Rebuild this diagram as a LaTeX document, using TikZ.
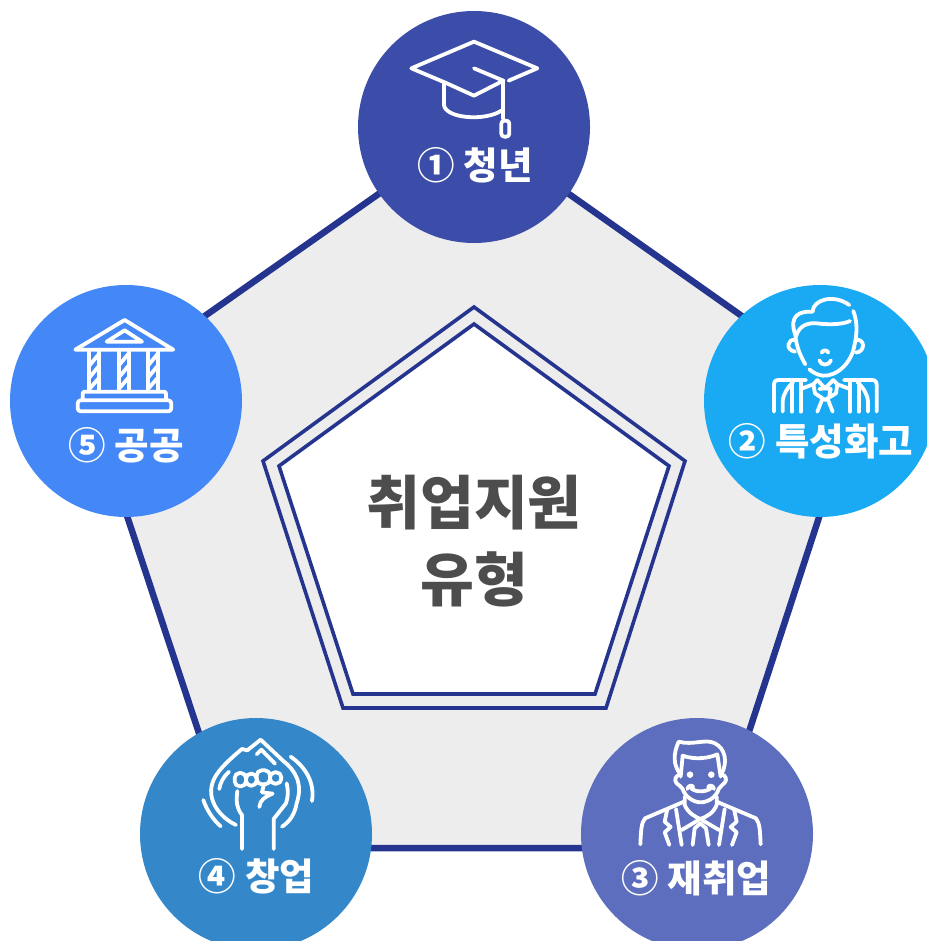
\documentclass[tikz,border=0pt]{standalone}
\usepackage{fontspec}
\newfontfamily\krfont{Noto Sans CJK KR}
\definecolor{edgeblue}{HTML}{25358F}
\definecolor{panelgray}{HTML}{EDEDEE}
\definecolor{titlegray}{HTML}{4D4D4D}
\definecolor{cone}{HTML}{3B4DA8}
\definecolor{ctwo}{HTML}{1AA9F3}
\definecolor{cthree}{HTML}{5C6EBD}
\definecolor{cfour}{HTML}{3487C9}
\definecolor{cfive}{HTML}{4487F7}
\tikzset{
  disc/.style={circle,minimum size=232pt,inner sep=0pt,outer sep=0pt},
  lab/.style={text=white,font=\krfont\bfseries\fontsize{37.5}{40}\selectfont,inner sep=0pt},
  title/.style={text=titlegray,font=\krfont\bfseries\fontsize{58.5}{77}\selectfont,align=center,inner sep=0pt},
  ico/.style={draw=white,line width=3.8pt,line cap=round,line join=round},
  icozoom/.style={x=0.3333pt,y=-0.3333pt}
}
\begin{document}
\begin{tikzpicture}[x=1pt,y=-1pt]
\useasboundingbox (0,0) rectangle (927,941);
\clip (0,0) rectangle (927,941);
% outer pentagon
\coordinate (o1) at (474,127);
\coordinate (o2) at (858,398);
\coordinate (o3) at (711,848);
\coordinate (o4) at (237,848);
\coordinate (o5) at (88,398);
\draw[edgeblue,fill=panelgray,line width=6.5pt,line join=miter] (o1)--(o2)--(o3)--(o4)--(o5)--cycle;
% middle pentagon
\coordinate (m1) at (474,307);
\coordinate (m2) at (685,461);
\coordinate (m3) at (606,708);
\coordinate (m4) at (343,708);
\coordinate (m5) at (263,461);
\draw[edgeblue,fill=panelgray,line width=3.6pt] (m1)--(m2)--(m3)--(m4)--(m5)--cycle;
% inner pentagon
\coordinate (i1) at (474,324);
\coordinate (i2) at (669,466);
\coordinate (i3) at (595,694);
\coordinate (i4) at (353,694);
\coordinate (i5) at (279,466);
\draw[edgeblue,fill=white,line width=3.6pt] (i1)--(i2)--(i3)--(i4)--(i5)--cycle;
\node[title] (centre) at (474,541) {취업지원\\유형};
% discs
\node[disc,fill=cone] (c1) at (474,127) {};
\node[disc,fill=ctwo] (c2) at (820,401) {};
\node[disc,fill=cthree] (c3) at (697,834) {};
\node[disc,fill=cfour] (c4) at (256,834) {};
\node[disc,fill=cfive] (c5) at (126,401) {};
% labels
\node[lab] (l1) at (475,165) {① 청년};
\node[lab] (l2) at (821,441) {② 특성화고};
\node[lab] (l3) at (696.5,878) {③ 재취업};
\node[lab] (l4) at (256.5,876) {④ 창업};
\node[lab] (l5) at (126,445) {⑤ 공공};
% cap
\begin{scope}[shift={(358,10)},icozoom]
\draw[ico] (262,218)--(160,175)--(348,95)--(538,175)--(452,212);
\draw[ico] (262,218)--(348,257)--(436,212)--(348,175);
\draw[ico] (436,212)--(436,325);
\draw[ico,rounded corners=3pt] (430,332) rectangle (454,380);
\draw[ico] (258,218)--(258,285) .. controls (262,325) and (380,335) .. (430,302);
\end{scope}
% student
\begin{scope}[shift={(700,285)},icozoom]
\draw[ico] (316,238) .. controls (296,205) and (288,175) .. (286,150) .. controls (265,90) and (300,78) .. (338,80) .. controls (338,45) and (400,25) .. (448,60);
\draw[ico] (460,78) .. controls (474,115) and (470,150) .. (464,178) .. controls (455,235) and (410,275) .. (368,272) .. controls (352,270) and (338,262) .. (328,253);
\draw[ico] (288,155) .. controls (295,125) and (320,112) .. (350,115) .. controls (390,120) and (430,118) .. (450,108);
\draw[ico] (286,165) .. controls (262,160) and (255,195) .. (285,200);
\draw[ico] (468,165) .. controls (495,160) and (497,200) .. (468,203);
\draw[ico] (358,226) .. controls (362,243) and (388,243) .. (393,226);
\draw[ico] (365,203) .. controls (368,194) and (382,194) .. (385,203);
\draw[ico] (222,380)--(222,300) .. controls (222,290) and (226,285) .. (236,285)--(318,285);
\draw[ico] (530,380)--(530,300) .. controls (530,290) and (526,285) .. (516,285)--(432,285);
\draw[ico] (248,380)--(248,350) .. controls (250,325) and (262,310) .. (280,290);
\draw[ico] (276,380)--(276,290);
\draw[ico] (302,380)--(302,290);
\draw[ico] (504,380)--(504,350) .. controls (502,325) and (490,310) .. (472,290);
\draw[ico] (476,380)--(476,290);
\draw[ico] (450,380)--(450,290);
\draw[ico] (302,312)--(340,298)--(352,285);
\draw[ico] (450,312)--(412,298)--(400,285);
\draw[ico] (340,298)--(345,325)--(375,345)--(408,325)--(412,298);
\draw[ico] (352,285)--(375,310)--(400,285);
\draw[ico] (358,312)--(375,310)--(392,312)--(388,332);
\draw[ico] (366,345)--(352,380);
\draw[ico] (384,345)--(398,380);
\end{scope}
% man
\begin{scope}[shift={(580,715)},icozoom]
\draw[ico] (302,178) .. controls (278,150) and (280,115) .. (296,80) .. controls (340,92) and (375,70) .. (405,85) .. controls (435,100) and (445,140) .. (424,178);
\draw[ico] (302,185)--(308,122) .. controls (345,135) and (385,130) .. (412,118)--(422,185);
\draw[ico] (302,178) .. controls (288,180) and (280,195) .. (290,205) .. controls (298,212) and (304,215) .. (308,222) .. controls (315,245) and (340,262) .. (362,262) .. controls (385,262) and (410,245) .. (416,222) .. controls (420,215) and (428,210) .. (434,203) .. controls (442,195) and (438,180) .. (424,178);
\fill[white] (330,179) circle (3.3pt);
\fill[white] (394,179) circle (3.3pt);
\draw[ico] (334,220) .. controls (345,232) and (378,232) .. (392,220);
\draw[ico] (322,222) .. controls (325,212) and (335,208) .. (340,216);
\draw[ico] (402,222) .. controls (400,212) and (390,208) .. (384,216);
\draw[ico] (181,388) .. controls (183,350) and (183,325) .. (195,310)--(312,260);
\draw[ico] (542,388) .. controls (540,350) and (540,325) .. (528,310)--(410,260);
\draw[ico] (314,245)--(314,270) .. controls (325,295) and (345,305) .. (361,312) .. controls (380,305) and (400,295) .. (410,270)--(410,245);
\draw[ico] (262,282)--(254,320)--(272,336)--(254,352)--(268,390);
\draw[ico] (462,282)--(470,320)--(452,336)--(470,352)--(456,390);
\draw[ico] (288,282)--(305,390);
\draw[ico] (434,282)--(417,390);
\draw[ico] (305,345)--(361,312)--(417,345);
\draw[ico] (344,340)--(361,325)--(378,340)--(386,390);
\draw[ico] (344,340)--(338,390);
\end{scope}
% fist
\begin{scope}[shift={(140,715)},icozoom]
\draw[ico] (288,330) .. controls (245,310) and (200,260) .. (217,205) .. controls (225,175) and (260,140) .. (306,102)--(322,106)--(362,74)--(430,138) .. controls (465,165) and (490,205) .. (470,265) .. controls (465,295) and (450,320) .. (426,335);
\draw[ico] (350,118)--(364,104)--(405,146);
\draw[ico] (267,170) .. controls (250,185) and (240,205) .. (238,222);
\draw[ico] (190,255) .. controls (200,285) and (220,315) .. (242,334);
\draw[ico] (452,125) .. controls (495,155) and (525,200) .. (516,258);
\draw[ico] (306,402)--(306,300) .. controls (290,280) and (288,260) .. (292,228);
\draw[ico] (401,402)--(401,312)--(438,265) .. controls (445,245) and (445,225) .. (440,205);
\draw[ico,rounded corners=5pt] (284,174) rectangle (318,214);
\draw[ico,rounded corners=5pt] (318,176) rectangle (350,212);
\draw[ico,rounded corners=5pt] (350,166) rectangle (390,208);
\draw[ico,rounded corners=5pt] (390,172) rectangle (424,206);
\draw[ico] (366,232)--(398,236) .. controls (375,245) and (360,255) .. (358,276);
\draw[ico] (366,232)--(372,208);
\end{scope}
% bank
\begin{scope}[shift={(10,285)},icozoom]
\draw[ico] (196,194)--(344,105)--(490,194)--cycle;
\draw[ico] (290,170)--(344,136)--(396,170)--cycle;
\draw[ico] (238,194)--(238,318);
\draw[ico] (266,194)--(266,318);
\draw[ico] (326,194)--(326,318);
\draw[ico] (356,194)--(356,318);
\draw[ico] (414,194)--(414,318);
\draw[ico] (444,194)--(444,318);
\foreach \xa in {238,326,414}{
  \draw[ico] (\xa,242)--(\xa+28,208);
  \draw[ico] (\xa,278)--(\xa+28,244);
  \draw[ico] (\xa,312)--(\xa+28,280);
}
\draw[ico,rounded corners=2pt] (218,346)--(218,320)--(468,320)--(468,346);
\draw[ico,rounded corners=3pt] (203,346) rectangle (484,379);
\end{scope}
\end{tikzpicture}
\end{document}
